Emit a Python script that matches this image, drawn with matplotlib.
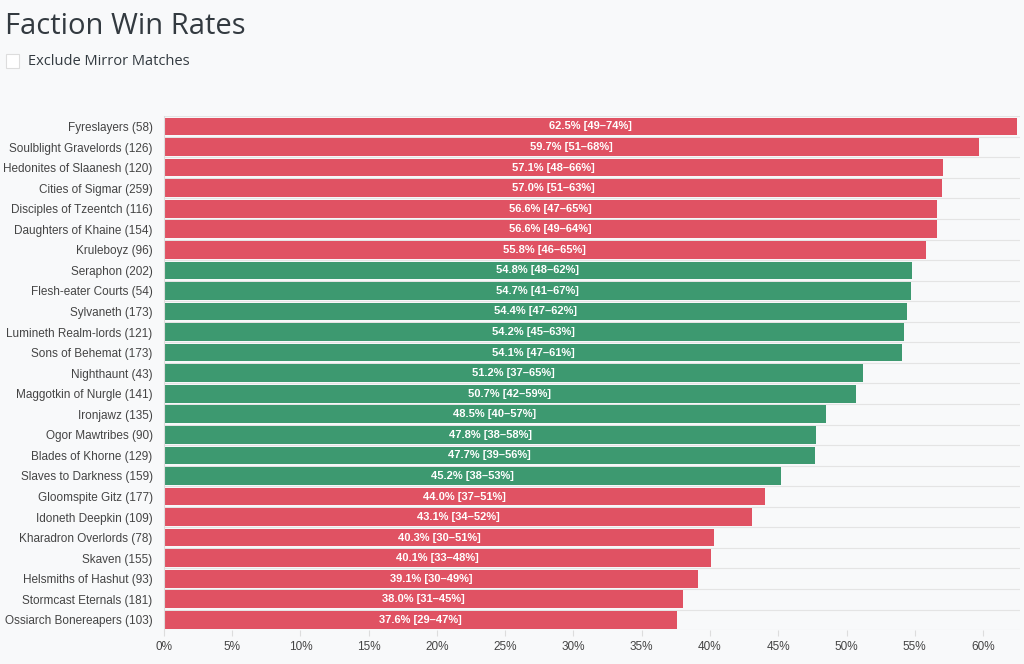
import matplotlib.pyplot as plt
from matplotlib.ticker import FuncFormatter

factions = ["Fyreslayers", "Soulblight Gravelords", "Hedonites of Slaanesh", "Cities of Sigmar",
            "Disciples of Tzeentch", "Daughters of Khaine", "Kruleboyz", "Seraphon",
            "Flesh-eater Courts", "Sylvaneth", "Lumineth Realm-lords", "Sons of Behemat",
            "Nighthaunt", "Maggotkin of Nurgle", "Ironjawz", "Ogor Mawtribes", "Blades of Khorne",
            "Slaves to Darkness", "Gloomspite Gitz", "Idoneth Deepkin", "Kharadron Overlords",
            "Skaven", "Helsmiths of Hashut", "Stormcast Eternals", "Ossiarch Bonereapers"]
games = [58, 126, 120, 259, 116, 154, 96, 202, 54, 173, 121, 173, 43, 141, 135, 90, 129,
         159, 177, 109, 78, 155, 93, 181, 103]
win_rate = [62.5, 59.7, 57.1, 57.0, 56.6, 56.6, 55.8, 54.8, 54.7, 54.4, 54.2, 54.1, 51.2,
            50.7, 48.5, 47.8, 47.7, 45.2, 44.0, 43.1, 40.3, 40.1, 39.1, 38.0, 37.6]
ci_low = [49, 51, 48, 51, 47, 49, 46, 48, 41, 47, 45, 47, 37, 42, 40, 38, 39, 38, 37, 34,
          30, 33, 30, 31, 29]
ci_high = [74, 68, 66, 63, 65, 64, 65, 62, 67, 62, 63, 61, 65, 59, 57, 58, 56, 53, 51, 52,
           51, 48, 49, 45, 47]

RED = '#e05263'
GREEN = '#3d9970'
BG = '#f8f9fa'

fig = plt.figure(figsize=(10.24, 6.64), dpi=100, facecolor=BG)
ax = fig.add_axes([0.160, 0.051, 0.836, 0.774], facecolor=BG)

colors = [GREEN if 45 <= w <= 55 else RED for w in win_rate]
y = list(range(len(factions)))
ax.barh(y, win_rate, height=0.86, color=colors, zorder=2)
for i, w in enumerate(win_rate):
    ax.text(w / 2, i, f"{w:.1f}% [{ci_low[i]}\u2013{ci_high[i]}%]", ha='center', va='center',
            color='white', fontsize=8, fontweight='bold', family='Liberation Sans', zorder=3)

ax.set_yticks(y)
ax.set_yticklabels([f"{f} ({g})" for f, g in zip(factions, games)], fontsize=8.5,
                   family='Liberation Sans', color='#444444')
ax.set_ylim(len(factions) - 0.5, -0.5)
ax.set_xlim(0, 62.7)
ax.set_xticks(range(0, 61, 5))
ax.xaxis.set_major_formatter(FuncFormatter(lambda v, p: f"{v:.0f}%"))
for lab in ax.get_xticklabels():
    lab.set_family('Liberation Sans')
ax.tick_params(axis='x', labelsize=8.5, colors='#444444', length=4, color='#dddddd')
ax.tick_params(axis='y', length=0, pad=8)
for yy in [i + 0.5 for i in range(-1, len(factions))]:
    ax.axhline(yy, color='#e4e4e4', lw=0.8, zorder=1)
for s in ['top', 'right', 'bottom']:
    ax.spines[s].set_visible(False)
ax.spines['left'].set_color('#dddddd')

fig.text(0.005, 0.96, "Faction Win Rates", fontsize=21, color='#333a40', va='center',
         family='Open Sans')
fig.patches.append(plt.Rectangle((0.006, 0.897), 0.013, 0.021, transform=fig.transFigure,
                                 facecolor='white', edgecolor='#dddddd', lw=0.8))
fig.text(0.027, 0.907, "Exclude Mirror Matches", fontsize=10.5, color='#333a40', va='center',
         family='Open Sans')

fig.savefig('out.png', dpi=100, facecolor=BG)
